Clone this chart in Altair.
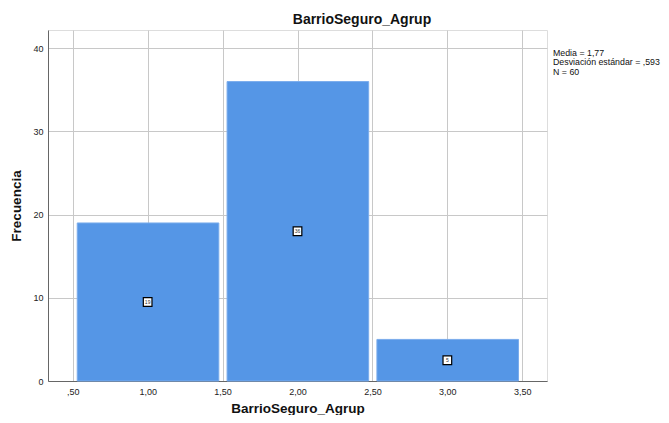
import altair as alt
import pandas as pd

centers = [1.0, 2.0, 3.0]
counts = [19, 36, 5]
x_ticks = [0.5, 1.0, 1.5, 2.0, 2.5, 3.0, 3.5]
y_ticks = [0, 10, 20, 30, 40]
stats_lines = ["Media = 1,77", "Desviación estándar = ,593", "N = 60"]
title_text = "BarrioSeguro_Agrup"

df = pd.DataFrame({
    "c": centers,
    "lo": [c - 0.5 for c in centers],
    "hi": [c + 0.5 for c in centers],
    "n": counts,
})
df["lo_d"] = df["lo"] + 0.03
df["hi_d"] = df["hi"] - 0.025
df["mid"] = df["n"] / 2

font = "Liberation Sans"
xscale = alt.Scale(domain=[0.335, 3.665], nice=False, zero=False)
yscale = alt.Scale(domain=[0, 42.2], nice=False)

label_expr = ("datum.value < 1 ? replace(format(datum.value, '.2f'), '0.', ',') "
              ": replace(format(datum.value, '.2f'), '.', ',')")

base = alt.Chart(df)

bars = base.mark_rect(color="#5596e6", stroke="#7aacec", strokeWidth=1).encode(
    x=alt.X("lo_d:Q", scale=xscale,
            axis=alt.Axis(values=x_ticks, labelExpr=label_expr, title="BarrioSeguro_Agrup",
                          grid=True, gridColor="#c8c8c8", domainColor="#666666",
                          ticks=False, labelFont=font, labelFontSize=9, labelColor="#222222",
                          labelPadding=6, titleFont=font, titleFontSize=13.5,
                          titleFontWeight="bold", titlePadding=5, titleColor="#111111")),
    x2="hi_d:Q",
    y=alt.Y("n:Q", scale=yscale,
            axis=alt.Axis(values=y_ticks, title="Frecuencia", grid=True, gridColor="#c8c8c8",
                          domainColor="#666666", ticks=False, labelFont=font, labelFontSize=9,
                          labelColor="#222222", labelPadding=5, titleFont=font,
                          titleFontSize=13.5, titleFontWeight="bold", titlePadding=9,
                          titleColor="#111111")),
    y2=alt.datum(0),
)

boxes = base.mark_point(shape="square", filled=False, fill="white", fillOpacity=1,
                        stroke="black", strokeWidth=1.2, size=75, opacity=1).encode(
    x=alt.X("c:Q", scale=xscale), y=alt.Y("mid:Q", scale=yscale))

labels = base.mark_text(font=font, fontSize=5, color="#333333").encode(
    x=alt.X("c:Q", scale=xscale), y=alt.Y("mid:Q", scale=yscale),
    text=alt.Text("n:Q"))

title = alt.Chart(pd.DataFrame({"t": [title_text]})).mark_text(
    font=font, fontSize=14, fontWeight="bold", color="#111111", align="center",
    baseline="middle").encode(x=alt.value(314), y=alt.value(-10), text="t:N")

stats = alt.layer(*[
    alt.Chart(pd.DataFrame({"t": [s]})).mark_text(
        font=font, fontSize=8.8, color="#111111", align="left", baseline="middle").encode(
        x=alt.value(505), y=alt.value(22.5 + 9.5 * i), text="t:N")
    for i, s in enumerate(stats_lines)
])

chart = alt.layer(bars, boxes, labels, title, stats).properties(
    width=499, height=351,
    autosize=alt.AutoSizeParams(type="none"),
    padding={"left": 40, "top": 22, "right": 114, "bottom": 34},
).configure_view(stroke=None).configure(background="white")

chart.save("out.html", embed_options={"renderer": "svg", "actions": False})
